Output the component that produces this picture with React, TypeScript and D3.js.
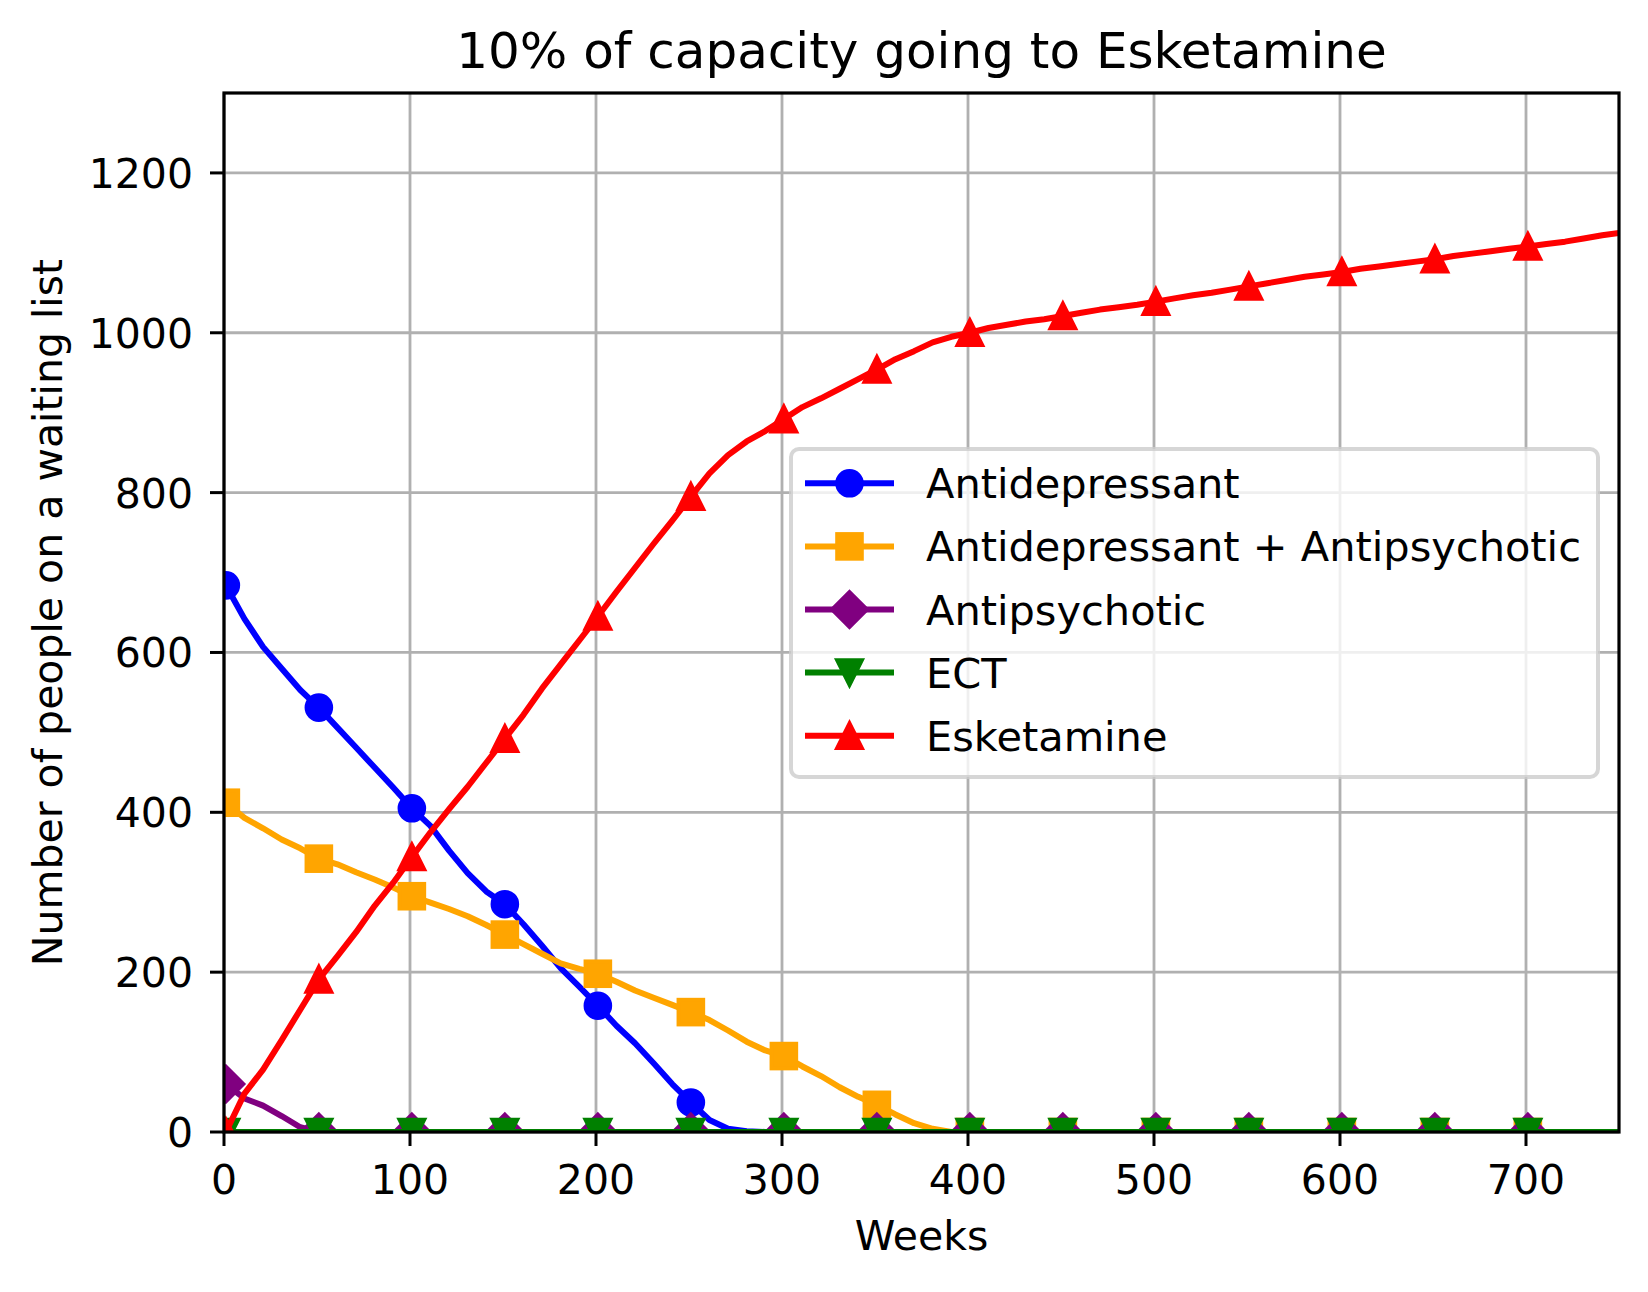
import React from 'react';
import * as d3 from 'd3';

// weeks sampled from the simulation output (markers every 50 weeks, starting week 1)
const weeks = [
  1, 11, 21, 31, 41, 51, 61, 71, 81, 91, 101, 111, 121, 131, 141, 151, 161, 171, 181, 191,
  201, 211, 221, 231, 241, 251, 261, 271, 281, 291, 301, 311, 321, 331, 341, 351, 361, 371, 381, 391,
  401, 411, 421, 431, 441, 451, 461, 471, 481, 491, 501, 511, 521, 531, 541, 551, 561, 571, 581, 591,
  601, 611, 621, 631, 641, 651, 661, 671, 681, 691, 701, 711, 721, 731, 741, 750,
];

const antidepressant = [
  684, 642, 607, 580, 553, 531, 506, 481, 456, 431, 405, 383, 352, 324, 301, 285, 260, 233, 205, 182,
  158, 133, 111, 86, 60, 37, 15, 4, 1, 0, 0, 0, 0, 0, 0, 0, 0, 0, 0, 0,
  0, 0, 0, 0, 0, 0, 0, 0, 0, 0, 0, 0, 0, 0, 0, 0, 0, 0, 0, 0,
  0, 0, 0, 0, 0, 0, 0, 0, 0, 0, 0, 0, 0, 0, 0, 0,
];

const antidepAntipsych = [
  412, 393, 380, 366, 355, 342, 335, 325, 316, 306, 295, 287, 279, 270, 259, 247, 235, 223, 211, 204,
  198, 188, 177, 168, 159, 150, 140, 127, 113, 102, 95, 82, 70, 56, 44, 34, 22, 11, 4, 0,
  0, 0, 0, 0, 0, 0, 0, 0, 0, 0, 0, 0, 0, 0, 0, 0, 0, 0, 0, 0,
  0, 0, 0, 0, 0, 0, 0, 0, 0, 0, 0, 0, 0, 0, 0, 0,
];

const antipsychotic = [
  60, 42, 33, 20, 6, 0, 0, 0, 0, 0, 0, 0, 0, 0, 0, 0, 0, 0, 0, 0,
  0, 0, 0, 0, 0, 0, 0, 0, 0, 0, 0, 0, 0, 0, 0, 0, 0, 0, 0, 0,
  0, 0, 0, 0, 0, 0, 0, 0, 0, 0, 0, 0, 0, 0, 0, 0, 0, 0, 0, 0,
  0, 0, 0, 0, 0, 0, 0, 0, 0, 0, 0, 0, 0, 0, 0, 0,
];

const ect = [
  0, 0, 0, 0, 0, 0, 0, 0, 0, 0, 0, 0, 0, 0, 0, 0, 0, 0, 0, 0,
  0, 0, 0, 0, 0, 0, 0, 0, 0, 0, 0, 0, 0, 0, 0, 0, 0, 0, 0, 0,
  0, 0, 0, 0, 0, 0, 0, 0, 0, 0, 0, 0, 0, 0, 0, 0, 0, 0, 0, 0,
  0, 0, 0, 0, 0, 0, 0, 0, 0, 0, 0, 0, 0, 0, 0, 0,
];

const esketamine = [
  0, 48, 78, 115, 153, 191, 220, 250, 283, 312, 344, 375, 404, 432, 462, 492, 522, 555, 585, 615,
  645, 676, 706, 736, 765, 795, 824, 847, 864, 877, 892, 907, 918, 930, 942, 954, 967, 977, 988, 995,
  1000, 1006, 1010, 1014, 1017, 1021, 1025, 1029, 1032, 1035, 1039, 1043, 1047, 1050, 1054, 1058, 1062, 1066, 1070, 1073,
  1076, 1080, 1083, 1086, 1089, 1092, 1096, 1099, 1102, 1105, 1108, 1111, 1114, 1118, 1122, 1125,
];

const seriesNames = ['Antidepressant', 'Antidepressant + Antipsychotic', 'Antipsychotic', 'ECT', 'Esketamine'];
const seriesColors = ['blue', 'orange', 'purple', 'green', 'red'];
const seriesMarkers = ['circle', 'square', 'diamond', 'tri-down', 'tri-up'];
const seriesValues = [antidepressant, antidepAntipsych, antipsychotic, ect, esketamine];

const xTicks = [0, 100, 200, 300, 400, 500, 600, 700];
const yTicks = [0, 200, 400, 600, 800, 1000, 1200];

const W = 1648;
const H = 1292;
const left = 224;
const right = 1619;
const top = 93;
const bottom = 1132;

const FONT = 'DejaVu Sans, sans-serif';
const MS = 24.6; // marker size
const LW = 6; // line width

const x = d3.scaleLinear().domain([0, 750]).range([left, right]);
const y = d3.scaleLinear().domain([0, 1300]).range([bottom, top]);

function Marker({ kind, color, cx, cy }: { kind: string; color: string; cx: number; cy: number }) {
  const h = MS / 2;
  const common = { fill: color, stroke: color, strokeWidth: 4, strokeLinejoin: 'miter' as const };
  if (kind === 'circle') return <circle cx={cx} cy={cy} r={h} {...common} />;
  if (kind === 'square') return <rect x={cx - h} y={cy - h} width={MS} height={MS} {...common} />;
  if (kind === 'diamond') {
    const d = MS * Math.SQRT1_2;
    return <path d={`M${cx},${cy - d}L${cx + d},${cy}L${cx},${cy + d}L${cx - d},${cy}Z`} {...common} />;
  }
  if (kind === 'tri-up')
    return <path d={`M${cx},${cy - h}L${cx + h},${cy + h}L${cx - h},${cy + h}Z`} {...common} />;
  return <path d={`M${cx},${cy + h}L${cx + h},${cy - h}L${cx - h},${cy - h}Z`} {...common} />;
}

export default function App() {
  const line = d3
    .line<number>()
    .x((_, i) => x(weeks[i]))
    .y((v) => y(v));

  const markerIdx = weeks.map((w, i) => ((w - 1) % 50 === 0 ? i : -1)).filter((i) => i >= 0);

  const legendX = 791;
  const legendY = 449;
  const rowY = (i: number) => 483.3 + i * 63.1;

  return (
    <svg
      width={W}
      height={H}
      viewBox={`0 0 ${W} ${H}`}
      style={{ position: 'absolute', left: 0, top: 0, background: 'white' }}
      fontFamily={FONT}
    >
      <defs>
        <clipPath id="plot-clip">
          <rect x={left} y={top} width={right - left} height={bottom - top} />
        </clipPath>
      </defs>
      <rect x={0} y={0} width={W} height={H} fill="white" />

      {/* grid */}
      <g stroke="#b0b0b0" strokeWidth={2.8}>
        {xTicks.map((t) => (
          <line key={'gx' + t} x1={x(t)} x2={x(t)} y1={top} y2={bottom} />
        ))}
        {yTicks.map((t) => (
          <line key={'gy' + t} x1={left} x2={right} y1={y(t)} y2={y(t)} />
        ))}
      </g>

      {/* series */}
      <g clipPath="url(#plot-clip)">
        {seriesValues.map((vals, s) => (
          <g key={seriesNames[s]}>
            <path d={line(vals) || ''} fill="none" stroke={seriesColors[s]} strokeWidth={LW} strokeLinejoin="round" />
            {markerIdx.map((i) => (
              <Marker key={i} kind={seriesMarkers[s]} color={seriesColors[s]} cx={x(weeks[i])} cy={y(vals[i])} />
            ))}
          </g>
        ))}
      </g>

      {/* spines */}
      <rect x={left} y={top} width={right - left} height={bottom - top} fill="none" stroke="black" strokeWidth={3.2} />

      {/* ticks */}
      <g stroke="black" strokeWidth={3}>
        {xTicks.map((t) => (
          <line key={'tx' + t} x1={x(t)} x2={x(t)} y1={bottom} y2={bottom + 14} />
        ))}
        {yTicks.map((t) => (
          <line key={'ty' + t} x1={left - 14} x2={left} y1={y(t)} y2={y(t)} />
        ))}
      </g>
      <g fontSize={41} fill="black">
        {xTicks.map((t) => (
          <text key={'lx' + t} x={x(t)} y={1194} textAnchor="middle">
            {t}
          </text>
        ))}
        {yTicks.map((t) => (
          <text key={'ly' + t} x={193} y={y(t) + 15} textAnchor="end">
            {t}
          </text>
        ))}
      </g>

      {/* labels */}
      <text x={(left + right) / 2} y={68} textAnchor="middle" fontSize={50}>
        10% of capacity going to Esketamine
      </text>
      <text x={(left + right) / 2} y={1250} textAnchor="middle" fontSize={41}>
        Weeks
      </text>
      <text
        transform={`translate(62, ${(top + bottom) / 2}) rotate(-90)`}
        textAnchor="middle"
        fontSize={41}
      >
        Number of people on a waiting list
      </text>

      {/* legend */}
      <g>
        <rect
          x={legendX}
          y={legendY}
          width={807}
          height={328}
          rx={8}
          fill="white"
          fillOpacity={0.8}
          stroke="#cccccc"
          strokeOpacity={0.8}
          strokeWidth={4}
        />
        {seriesNames.map((name, i) => (
          <g key={'lg' + name}>
            <line x1={805} x2={894} y1={rowY(i)} y2={rowY(i)} stroke={seriesColors[i]} strokeWidth={LW} />
            <Marker kind={seriesMarkers[i]} color={seriesColors[i]} cx={849.5} cy={rowY(i)} />
            <text x={926} y={rowY(i) + 15} fontSize={41.5}>
              {name}
            </text>
          </g>
        ))}
      </g>
    </svg>
  );
}
